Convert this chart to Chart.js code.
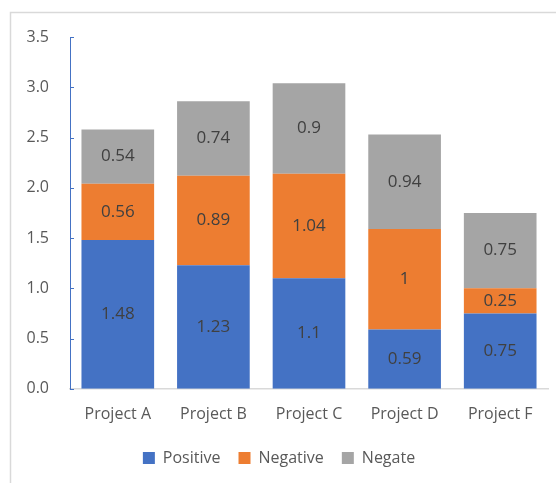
<!DOCTYPE html>
<html>
<head>
<meta charset="utf-8">
<script src="https://cdn.jsdelivr.net/npm/chart.js@4/dist/chart.umd.min.js"></script>
<style>
  html, body { margin: 0; padding: 0; background: #fff; }
  #wrap { width: 556px; height: 483px; position: relative; }
</style>
</head>
<body>
<div id="wrap"><canvas id="chart" width="556" height="483"></canvas></div>
<script>
const categories = ["Project A", "Project B", "Project C", "Project D", "Project F"];
const positive = [1.48, 1.23, 1.1, 0.59, 0.75];
const negative = [0.56, 0.89, 1.04, 1, 0.25];
const negate = [0.54, 0.74, 0.9, 0.94, 0.75];

const fontFamily = "'Open Sans', 'Noto Sans', sans-serif";

// light frame around the chart (only top and left edges visible)
const framePlugin = {
    id: "frame",
    beforeDraw(chart) {
        const ctx = chart.ctx;
        ctx.save();
        ctx.strokeStyle = "#d9d9d9";
        ctx.lineWidth = 1.5;
        ctx.beginPath();
        ctx.moveTo(10.5, chart.height);
        ctx.lineTo(10.5, 12.5);
        ctx.lineTo(chart.width, 12.5);
        ctx.stroke();
        ctx.restore();
    }
};

// small tick marks pointing inward from the y axis
const yTicksPlugin = {
    id: "yTicks",
    afterDraw(chart) {
        const y = chart.scales.y;
        const ctx = chart.ctx;
        ctx.save();
        ctx.strokeStyle = "#4472C4";
        ctx.lineWidth = 1;
        y.ticks.forEach(t => {
            const py = Math.round(y.getPixelForValue(t.value)) + 0.5;
            ctx.beginPath();
            ctx.moveTo(y.right, py);
            ctx.lineTo(y.right + 4, py);
            ctx.stroke();
        });
        ctx.restore();
    }
};

// values centred in each segment
const labelsPlugin = {
    id: "segLabels",
    afterDatasetsDraw(chart) {
        const ctx = chart.ctx;
        ctx.save();
        ctx.font = "17px " + fontFamily;
        ctx.fillStyle = "#404040";
        ctx.textAlign = "center";
        ctx.textBaseline = "middle";
        chart.data.datasets.forEach((ds, i) => {
            chart.getDatasetMeta(i).data.forEach((el, j) => {
                ctx.fillText(String(ds.data[j]), el.x, (el.y + el.base) / 2);
            });
        });
        ctx.restore();
    }
};

new Chart(document.getElementById("chart"), {
    type: "bar",
    data: {
        labels: categories,
        datasets: [
            { label: "Positive", data: positive, backgroundColor: "#4472C4" },
            { label: "Negative", data: negative, backgroundColor: "#ED7D31" },
            { label: "Negate", data: negate, backgroundColor: "#A5A5A5" }
        ]
    },
    options: {
        responsive: false,
        animation: false,
        layout: { padding: { left: 10, right: 8, top: 37, bottom: 7 } },
        datasets: { bar: { categoryPercentage: 1, barPercentage: 0.76 } },
        scales: {
            x: {
                stacked: true,
                grid: { display: false },
                border: { color: "#d9d9d9", width: 1.5 },
                ticks: { color: "#595959", font: { family: fontFamily, size: 16 }, padding: 8 }
            },
            y: {
                stacked: true,
                min: 0,
                max: 3.5,
                afterFit(scale) { scale.width = 60; },
                grid: { display: false, drawTicks: false },
                border: { color: "#4472C4", width: 1 },
                ticks: {
                    stepSize: 0.5,
                    color: "#595959",
                    padding: 21,
                    font: { family: fontFamily, size: 16 },
                    callback: v => v.toFixed(1)
                }
            }
        },
        plugins: {
            legend: {
                position: "bottom",
                labels: {
                    color: "#595959",
                    font: { family: fontFamily, size: 16 },
                    boxWidth: 12,
                    boxHeight: 12,
                    padding: 18
                }
            },
            tooltip: { enabled: false }
        }
    },
    plugins: [framePlugin, yTicksPlugin, labelsPlugin]
});
</script>
</body>
</html>
